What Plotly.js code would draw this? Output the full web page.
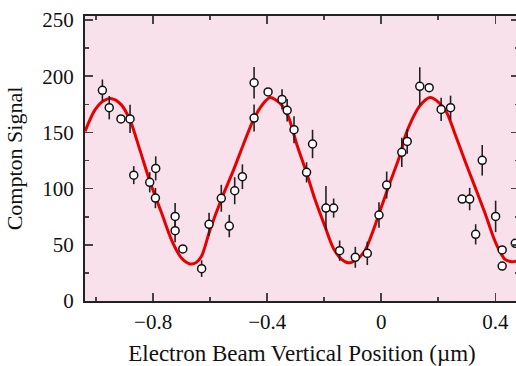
<!DOCTYPE html>
<html>
<head>
<meta charset="utf-8">
<script src="https://cdn.plot.ly/plotly-3.0.1.min.js"></script>
<style>
html,body{margin:0;padding:0;overflow:hidden;background:#fff;width:516px;height:366px;}
#chart{width:519px;height:366px;}
</style>
</head>
<body>
<div id="chart"></div>
<script>
// Measured data points
var dataX = [-0.978,-0.954,-0.913,-0.881,-0.868,-0.812,-0.791,-0.792,-0.723,-0.723,-0.696,-0.630,
             -0.604,-0.561,-0.533,-0.514,-0.487,-0.446,-0.446,-0.397,-0.348,-0.330,-0.306,-0.262,
             -0.241,-0.194,-0.167,-0.146,-0.091,-0.049,-0.008,0.019,0.072,0.091,0.135,0.168,
             0.210,0.243,0.284,0.310,0.331,0.354,0.401,0.424,0.424,0.470];
var dataY = [187.5,172,162,162,112,105.6,118,91.6,75.3,62.6,46.3,28.8,
             68.2,91.4,66.7,98.1,110.6,194.2,162.8,186,179.4,169.7,152.4,114.5,
             139.7,82.7,82.7,44.8,38.9,42.4,76.5,103.2,132.3,142,191,189.8,
             170.5,172,90.7,90.7,59.3,125.2,75.3,45.4,31.1,51.3];
var dataErr = [9.6,10.4,3,12.6,8,9,10.7,9,12,10.4,3,7.4,
               10.4,12,10,12,11,14,12,3,9,10,12,9,
               12.6,19.6,8.5,9,9.3,10.4,11.4,12,13,11,17,3,
               10.4,10.7,3,10,9,13.6,14,3,3,3];

// Fitted curve
var fitX = [-1.039,-1.004,-0.975,-0.945,-0.913,-0.881,-0.846,-0.811,-0.770,-0.735,-0.700,-0.671,-0.650,-0.630,
            -0.601,-0.560,-0.519,-0.484,-0.449,-0.419,-0.390,-0.355,-0.326,-0.297,-0.262,-0.232,-0.197,
            -0.168,-0.139,-0.116,-0.086,-0.057,-0.028,0.001,0.030,0.066,0.083,0.107,0.136,0.171,0.200,
            0.229,0.258,0.293,0.328,0.364,0.393,0.416,0.434,0.457,0.483];
var fitY = [151,170,178,180,175,161,134,106,78,54,38,33,34,40,
            63,91,116,139,161,174,181,176,164,140,114,90,66,
            47,37,34,37,45,63,84,105,130,146,161,174,181,177,
            168,149,125,102,78,57,44,37,35,36];

var xTickVals = [-0.8,-0.4,0,0.4];
var xTickText = ['\u22120.8','\u22120.4','0','0.4'];
var yTickVals = [0,50,100,150,200,250];

var fontFam = '"Liberation Serif", "DejaVu Serif", serif';

var traces = [
  {x: fitX, y: fitY, type: 'scatter', mode: 'lines',
   line: {color: '#e60000', width: 3, shape: 'spline', smoothing: 0.8},
   hoverinfo: 'skip', showlegend: false},
  {x: dataX, y: dataY, type: 'scatter', mode: 'markers',
   error_y: {type: 'data', array: dataErr, visible: true, color: '#222', thickness: 1.6, width: 0},
   marker: {color: '#fff', size: 8, line: {color: '#111', width: 1.5}},
   showlegend: false}
];

var axisCommon = {
  showgrid: false, zeroline: false, showline: true, linecolor: '#222', linewidth: 2,
  mirror: 'ticks', ticks: 'inside', ticklen: 8, tickwidth: 1.6, tickcolor: '#444',
  tickfont: {family: fontFam, size: 21, color: '#111'}
};

var layout = {
  width: 519, height: 366,
  margin: {l: 85, r: 0, t: 16, b: 65},
  paper_bgcolor: '#fff', plot_bgcolor: 'rgb(248,225,235)',
  xaxis: Object.assign({}, axisCommon, {
    range: [-1.039, 0.483],
    tickmode: 'array', tickvals: xTickVals, ticktext: xTickText,
    ticklabelstandoff: 1,
    minor: {dtick: 0.2, tick0: 0, ticks: 'inside', ticklen: 4, tickwidth: 1.6, tickcolor: '#444'},
    title: {text: 'Electron Beam Vertical Position (\u00b5m)', font: {family: fontFam, size: 23, color: '#111'}, standoff: 13}
  }),
  yaxis: Object.assign({}, axisCommon, {
    range: [0, 253.6],
    tickmode: 'array', tickvals: yTickVals,
    ticklabelstandoff: 5,
    minor: {dtick: 25, tick0: 0, ticks: 'inside', ticklen: 4, tickwidth: 1.6, tickcolor: '#444'},
    title: {text: 'Compton Signal', font: {family: fontFam, size: 22, color: '#111'}, standoff: 14}
  })
};

Plotly.newPlot('chart', traces, layout, {staticPlot: true, displayModeBar: false});
</script>
</body>
</html>
